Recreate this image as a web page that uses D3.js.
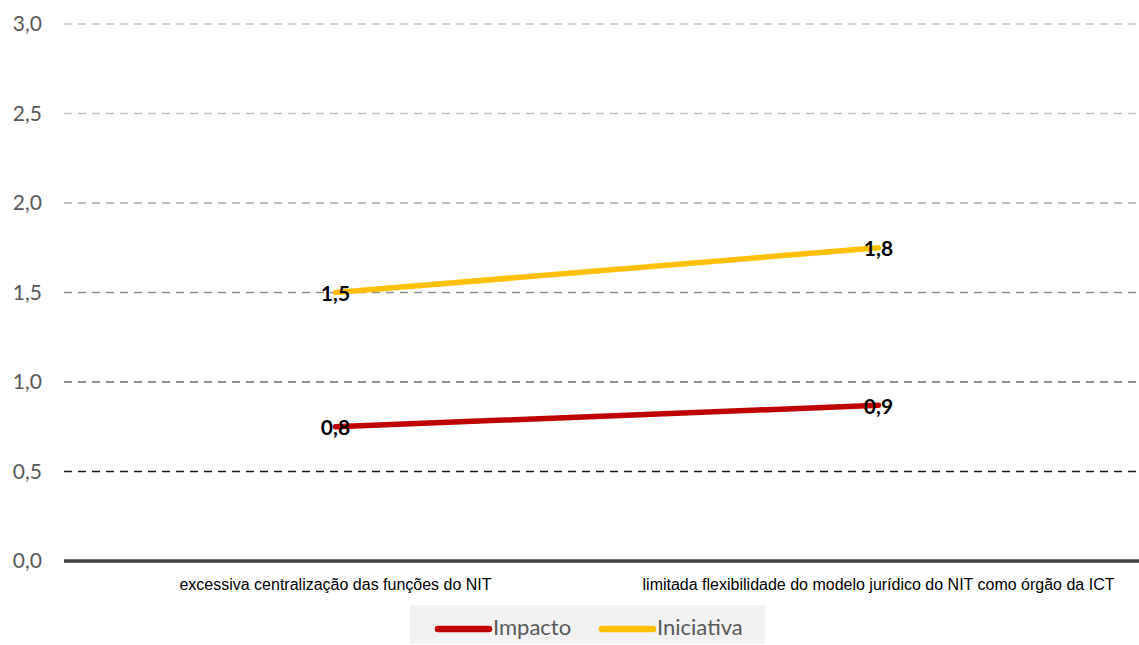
<!DOCTYPE html>
<html>
<head>
<meta charset="utf-8">
<script src="https://cdn.jsdelivr.net/npm/d3@7"></script>
<style>
  html, body { margin: 0; padding: 0; background: #fff; }
  svg { display: block; }
</style>
</head>
<body>
<svg id="chart" width="1139" height="645"></svg>
<script>
// ---- DATA ----
const categories = [
  "excessiva centralização das funções do NIT",
  "limitada flexibilidade do modelo jurídico do NIT como órgão da ICT"
];
const seriesNames = ["Impacto", "Iniciativa"];
const impacto = [0.75, 0.87];
const iniciativa = [1.50, 1.75];
const yTicks = [0.0, 0.5, 1.0, 1.5, 2.0, 2.5, 3.0];

// ---- STYLE ----
const colors = { "Impacto": "#C00000", "Iniciativa": "#FFC000" };
const W = 1139, H = 645;
const margin = { left: 64, right: -11, top: 24, bottom: 84 };

const svg = d3.select("#chart");
const locale = d3.formatLocale({ decimal: ",", thousands: ".", grouping: [3], currency: ["", ""] });
const fmt = locale.format(".1f");

const x = d3.scaleBand().domain(categories).range([margin.left, W - margin.right]).padding(0);
const y = d3.scaleLinear().domain([0, 3]).range([H - margin.bottom, margin.top]);

const gridColor = d3.scaleLinear().domain([0.5, 1.0, 1.5, 2.5, 3.0])
  .range(["#1a1a1a", "#6e6e6e", "#8c8c8c", "#c4c4c4", "#c8c8c8"]);

// gridlines
const grid = svg.append("g");
grid.selectAll("line").data(yTicks.filter(d => d > 0)).join("line")
  .attr("x1", margin.left).attr("x2", W)
  .attr("y1", d => y(d)).attr("y2", d => y(d))
  .attr("stroke", d => gridColor(d))
  .attr("stroke-width", 1.6)
  .attr("stroke-dasharray", "8,6");

// y axis labels
const yAxis = d3.axisLeft(y).tickValues(yTicks).tickFormat(fmt).tickSize(0).tickPadding(22);
const ya = svg.append("g").attr("transform", `translate(${margin.left},0)`).call(yAxis);
ya.select(".domain").remove();
ya.selectAll("text").attr("font-family", "Lato, sans-serif").attr("font-size", 21).attr("fill", "#595959");

// baseline
svg.append("line")
  .attr("x1", margin.left).attr("x2", W)
  .attr("y1", y(0)).attr("y2", y(0))
  .attr("stroke", "#404040").attr("stroke-width", 3.5);

// x axis labels
const xAxis = d3.axisBottom(x).tickSize(0).tickPadding(18);
const xa = svg.append("g").attr("transform", `translate(0,${y(0)})`).call(xAxis);
xa.select(".domain").remove();
xa.selectAll("text").attr("font-family", "'Liberation Sans', Arial, sans-serif").attr("font-size", 16).attr("fill", "#000");

// lines
const series = [
  { name: "Impacto", values: impacto },
  { name: "Iniciativa", values: iniciativa }
];
const line = d3.line().x((d, i) => x(categories[i]) + x.bandwidth() / 2).y(d => y(d));
svg.append("g").selectAll("path").data(series).join("path")
  .attr("d", d => line(d.values))
  .attr("fill", "none")
  .attr("stroke", d => colors[d.name])
  .attr("stroke-width", 5.5)
  .attr("stroke-linecap", "round");

// data labels
const lbl = svg.append("g");
series.forEach(s => {
  lbl.selectAll(null).data(s.values).join("text")
    .attr("x", (d, i) => x(categories[i]) + x.bandwidth() / 2)
    .attr("y", d => y(d) + 3)
    .attr("text-anchor", "middle")
    .attr("dominant-baseline", "middle")
    .attr("font-family", "Lato, sans-serif")
    .attr("font-weight", "bold")
    .attr("font-size", 21)
    .attr("fill", "#000")
    .text(d => fmt(d));
});

// legend
const lg = svg.append("g");
lg.append("rect").attr("x", 410).attr("y", 605).attr("width", 355).attr("height", 39).attr("fill", "#f2f2f2");
const legendX = [435, 599];
seriesNames.forEach((n, i) => {
  lg.append("line").attr("x1", legendX[i] + 3).attr("x2", legendX[i] + 54)
    .attr("y1", 629).attr("y2", 629)
    .attr("stroke", colors[n]).attr("stroke-width", 6.5).attr("stroke-linecap", "round");
  lg.append("text").attr("x", legendX[i] + 58).attr("y", 629)
    .attr("dominant-baseline", "middle")
    .attr("font-family", "Lato, sans-serif").attr("font-size", 22).attr("fill", "#595959")
    .text(n);
});
</script>
</body>
</html>
